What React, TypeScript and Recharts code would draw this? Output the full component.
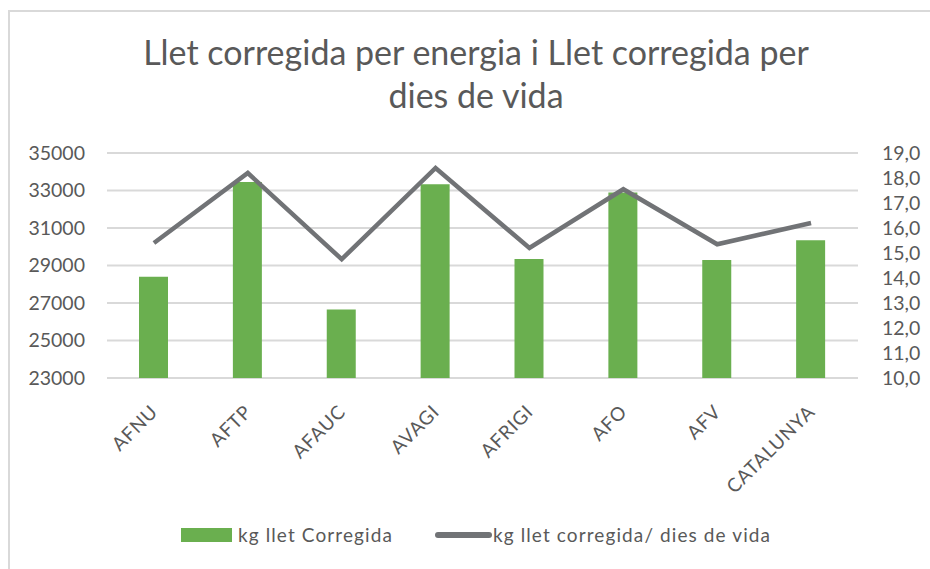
import React from "react";
import {
  Bar,
  CartesianGrid,
  ComposedChart,
  Legend,
  Line,
  XAxis,
  YAxis,
} from "recharts";

const categories = ["AFNU", "AFTP", "AFAUC", "AVAGI", "AFRIGI", "AFO", "AFV", "CATALUNYA"];
// kg llet corregida (eix esquerre)
const milkCorrected = [28400, 33450, 26650, 33330, 29350, 32900, 29300, 30350];
// kg llet corregida / dies de vida (eix dret)
const milkPerDay = [15.4, 18.2, 14.75, 18.4, 15.2, 17.55, 15.35, 16.2];

const leftTicks = [23000, 25000, 27000, 29000, 31000, 33000, 35000];
const rightTicks = [10, 11, 12, 13, 14, 15, 16, 17, 18, 19];

const titleLines = ["Llet corregida per energia i Llet corregida per", "dies de vida"];
const barName = "kg llet Corregida";
const lineName = "kg llet corregida/ dies de vida";

const FONT = "Lato, 'Open Sans', sans-serif";
const TEXT = "#595959";
const GREEN = "#6aaf4f";
const GRAY = "#717376";
const GRID = "#d9d9d9";

const W = 922;
const H = 561;

type TickProps = { x?: number; y?: number; payload?: { value: string } };

function XTick({ x = 0, y = 0, payload }: TickProps) {
  const tx = x + 5;
  const ty = y + 27;
  return (
    <text
      x={tx}
      y={ty}
      transform={`rotate(-45, ${tx}, ${ty})`}
      textAnchor="end"
      fill={TEXT}
      fontSize={19}
      fontFamily={FONT}
      letterSpacing={0.8}
    >
      {payload?.value}
    </text>
  );
}

function LegendContent() {
  const label: React.CSSProperties = {
    position: "absolute",
    top: -2,
    fontFamily: FONT,
    fontSize: 19,
    color: TEXT,
    lineHeight: "24px",
    letterSpacing: 1.1,
    whiteSpace: "nowrap",
  };
  return (
    <div style={{ position: "relative", width: W, height: 20 }}>
      <span style={{ position: "absolute", left: 173, top: 3, width: 51, height: 14, background: GREEN }} />
      <span style={{ ...label, left: 230 }}>{barName}</span>
      <span
        style={{ position: "absolute", left: 427, top: 7, width: 57, height: 6, borderRadius: 3, background: GRAY }}
      />
      <span style={{ ...label, left: 485 }}>{lineName}</span>
    </div>
  );
}

export default function App() {
  const data = categories.map((name, i) => ({
    name,
    milk: milkCorrected[i],
    perDay: milkPerDay[i],
  }));

  return (
    <div
      style={{
        position: "absolute",
        left: 8,
        top: 8,
        width: W,
        height: H,
        overflow: "hidden",
        background: "#fff",
      }}
    >
      <div
        style={{
          position: "absolute",
          left: 0,
          top: 2,
          width: W + 20,
          height: H + 20,
          borderLeft: `2px solid ${GRID}`,
          borderTop: `2px solid ${GRID}`,
        }}
      />
      <svg
        width={W}
        height={130}
        style={{ position: "absolute", left: 0, top: 0, pointerEvents: "none" }}
      >
        {titleLines.map((t, i) => (
          <text
            key={t}
            x={468}
            y={57 + i * 43}
            textAnchor="middle"
            fill={TEXT}
            fontSize={34}
            fontFamily={FONT}
          >
            {t}
          </text>
        ))}
      </svg>
      <div style={{ position: "absolute", left: 0, top: 0 }}>
        <ComposedChart
          width={W}
          height={H}
          data={data}
          margin={{ top: 145, right: 0, bottom: 24, left: 0 }}
        >
          <CartesianGrid
            yAxisId="left"
            vertical={false}
            stroke={GRID}
            strokeWidth={2}
          />
          <XAxis
            dataKey="name"
            height={147}
            interval={0}
            axisLine={false}
            tickLine={false}
            tick={<XTick />}
          />
          <YAxis
            yAxisId="left"
            width={99}
            domain={[23000, 35000]}
            ticks={leftTicks}
            interval={0}
            axisLine={false}
            tickLine={false}
            tickMargin={16}
            tick={{ fill: TEXT, fontSize: 19.5, fontFamily: FONT }}
          />
          <YAxis
            yAxisId="right"
            orientation="right"
            width={72}
            domain={[10, 19]}
            ticks={rightTicks}
            interval={0}
            axisLine={false}
            tickLine={false}
            tickMargin={18}
            tickFormatter={(v: number) => v.toFixed(1).replace(".", ",")}
            tick={{ fill: TEXT, fontSize: 19.5, fontFamily: FONT, textAnchor: "start" }}
          />
          <Legend verticalAlign="bottom" height={20} content={<LegendContent />} />
          <Bar
            yAxisId="left"
            dataKey="milk"
            name={barName}
            fill={GREEN}
            barSize={29}
            isAnimationActive={false}
          />
          <Line
            yAxisId="right"
            type="linear"
            dataKey="perDay"
            name={lineName}
            stroke={GRAY}
            strokeWidth={4.5}
            dot={false}
            activeDot={false}
            isAnimationActive={false}
          />
        </ComposedChart>
      </div>
    </div>
  );
}
